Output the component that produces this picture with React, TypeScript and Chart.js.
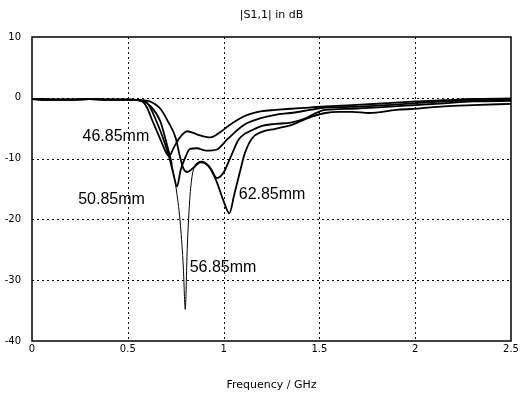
import React, { useEffect, useRef } from "react";
import { Chart, registerables } from "chart.js";
Chart.register(...registerables);

const titleText = "|S1,1| in dB";
const xTitleText = "Frequency / GHz";
const xTickValues = [0, 0.5, 1, 1.5, 2, 2.5];
const yTickValues = [10, 0, -10, -20, -30, -40];

const freqA = [0, 0.1, 0.2, 0.3, 0.4, 0.5, 0.55, 0.58, 0.6, 0.63, 0.66, 0.68, 0.7, 0.715, 0.74, 0.77, 0.81, 0.86, 0.93, 0.98, 1.03, 1.11, 1.2, 1.27, 1.35, 1.45, 1.53, 1.67, 1.85, 2.0, 2.15, 2.3, 2.5];
const s11A = [-0.2, -0.3, -0.3, -0.2, -0.3, -0.3, -0.4, -0.7, -1.6, -3.9, -6.1, -7.6, -9.0, -9.6, -8.2, -6.6, -5.5, -6.0, -6.5, -5.7, -4.5, -3.0, -2.2, -2.0, -1.8, -1.6, -1.4, -1.2, -0.9, -0.6, -0.4, -0.2, -0.1];

const freqB = [0, 0.1, 0.2, 0.3, 0.4, 0.5, 0.56, 0.6, 0.65, 0.69, 0.72, 0.74, 0.757, 0.775, 0.8, 0.825, 0.86, 0.91, 0.965, 1.02, 1.11, 1.2, 1.27, 1.35, 1.45, 1.53, 1.67, 1.85, 2.0, 2.15, 2.3, 2.5];
const s11B = [-0.2, -0.3, -0.3, -0.2, -0.3, -0.3, -0.4, -0.8, -3.9, -7.2, -10.2, -12.8, -14.6, -12.0, -9.8, -8.4, -8.3, -8.7, -8.5, -6.8, -4.4, -3.3, -2.8, -2.5, -2.0, -1.6, -1.5, -1.2, -0.9, -0.6, -0.4, -0.3];

const freqC = [0, 0.1, 0.2, 0.3, 0.4, 0.5, 0.57, 0.62, 0.67, 0.7, 0.73, 0.755, 0.775, 0.79, 0.8, 0.81, 0.825, 0.85, 0.89, 0.93, 0.965, 1.0, 1.04, 1.08, 1.15, 1.2, 1.27, 1.35, 1.41, 1.53, 1.67, 1.85, 2.0, 2.15, 2.3, 2.5];
const s11C = [-0.2, -0.3, -0.3, -0.2, -0.3, -0.3, -0.5, -1.4, -3.9, -7.2, -11.0, -15.5, -21, -28, -34.8, -25, -16, -11.2, -10.5, -11.5, -13.2, -12.3, -9.5, -6.8, -5.3, -4.6, -4.3, -4.1, -3.6, -2.0, -1.8, -1.5, -1.2, -0.9, -0.6, -0.5];

const freqD = [0, 0.1, 0.2, 0.3, 0.4, 0.5, 0.58, 0.615, 0.67, 0.71, 0.75, 0.77, 0.79, 0.81, 0.84, 0.88, 0.92, 0.96, 1.0, 1.03, 1.055, 1.085, 1.11, 1.15, 1.2, 1.27, 1.36, 1.46, 1.53, 1.6, 1.67, 1.76, 1.9, 2.0, 2.15, 2.3, 2.5];
const s11D = [-0.2, -0.3, -0.3, -0.2, -0.3, -0.3, -0.4, -0.6, -1.8, -3.9, -6.6, -9.4, -11.6, -12.2, -11.6, -10.6, -11.2, -13.5, -17.0, -19.0, -16, -12.2, -9.2, -6.6, -5.6, -5.1, -4.4, -3.1, -2.5, -2.3, -2.3, -2.5, -2.0, -1.8, -1.4, -1.2, -1.0];

const curveNames = ["46.85mm", "50.85mm", "56.85mm", "62.85mm"];
const labelFreq = [0.438, 0.415, 0.997, 1.253];
const labelDb = [-6.3, -16.7, -28.0, -16.0];

function pts(xs: number[], ys: number[]) {
  return xs.map((x, i) => ({ x, y: ys[i] }));
}

export default function App() {
  const ref = useRef<HTMLCanvasElement | null>(null);
  useEffect(() => {
    document.body.style.margin = "0";
    const canvas = ref.current;
    if (!canvas) return;

    const decor = {
      id: "decor",
      beforeDraw(chart: any) {
        const ctx = chart.ctx;
        ctx.save();
        ctx.fillStyle = "#fff";
        ctx.fillRect(0, 0, chart.width, chart.height);
        ctx.restore();
      },
      beforeDatasetsDraw(chart: any) {
        const ctx = chart.ctx;
        const { left, right, top, bottom } = chart.chartArea;
        const xs = chart.scales.x;
        const ys = chart.scales.y;
        ctx.save();
        ctx.strokeStyle = "#000";
        ctx.lineWidth = 1;
        ctx.setLineDash([2, 3]);
        xTickValues.slice(1, -1).forEach((v) => {
          const px = Math.round(xs.getPixelForValue(v)) + 0.5;
          ctx.beginPath();
          ctx.moveTo(px, top);
          ctx.lineTo(px, bottom);
          ctx.stroke();
        });
        yTickValues.slice(1, -1).forEach((v) => {
          const py = Math.round(ys.getPixelForValue(v)) + 0.5;
          ctx.beginPath();
          ctx.moveTo(left, py);
          ctx.lineTo(right, py);
          ctx.stroke();
        });
        ctx.restore();
      },
      afterDraw(chart: any) {
        const ctx = chart.ctx;
        const { left, right, top, bottom } = chart.chartArea;
        const xs = chart.scales.x;
        const ys = chart.scales.y;
        ctx.save();
        ctx.strokeStyle = "#000";
        ctx.lineWidth = 1.5;
        ctx.setLineDash([]);
        ctx.strokeRect(left, top, right - left, bottom - top);
        ctx.fillStyle = "#000";
        ctx.textAlign = "center";
        ctx.textBaseline = "middle";
        ctx.font = "11px 'DejaVu Sans'";
        const cx = (left + right) / 2;
        ctx.fillText(titleText, cx, 15);
        ctx.fillText(xTitleText, cx, 385);
        ctx.font = "16px 'Liberation Sans'";
        curveNames.forEach((n, i) => {
          ctx.fillText(n, xs.getPixelForValue(labelFreq[i]), ys.getPixelForValue(labelDb[i]));
        });
        ctx.restore();
      },
    };

    const common = {
      borderColor: "#000",
      borderWidth: 1.8,
      pointRadius: 0,
      fill: false,
      cubicInterpolationMode: "monotone" as const,
    };

    const chart = new Chart(canvas, {
      type: "line",
      data: {
        datasets: [
          { ...common, label: curveNames[0], data: pts(freqA, s11A) },
          { ...common, label: curveNames[1], data: pts(freqB, s11B) },
          {
            ...common,
            label: curveNames[2],
            data: pts(freqC, s11C),
            segment: {
              borderWidth: (c: any) => (c.p0.parsed.y < -15 || c.p1.parsed.y < -15 ? 1 : 1.8),
            },
          },
          { ...common, label: curveNames[3], data: pts(freqD, s11D) },
        ],
      },
      options: {
        animation: false,
        responsive: false,
        layout: { padding: { top: 37, right: 19, left: 0, bottom: 0 } },
        plugins: { legend: { display: false }, tooltip: { enabled: false }, title: { display: false } },
        scales: {
          x: {
            type: "linear",
            min: 0,
            max: 2.5,
            afterFit: (s: any) => {
              s.height = 55;
            },
            afterBuildTicks: (s: any) => {
              s.ticks = xTickValues.map((v) => ({ value: v }));
            },
            ticks: {
              color: "#000",
              font: { family: "'DejaVu Sans'", size: 10 },
              padding: 2,
              maxRotation: 0,
              callback: (v: any) => String(v),
            },
            grid: { display: false, drawTicks: false },
            border: { display: false },
          },
          y: {
            type: "linear",
            min: -40,
            max: 10,
            afterFit: (s: any) => {
              s.width = 32;
            },
            afterBuildTicks: (s: any) => {
              s.ticks = yTickValues.map((v) => ({ value: v }));
            },
            ticks: {
              color: "#000",
              font: { family: "'DejaVu Sans'", size: 10 },
              padding: 11,
              callback: (v: any) => String(v),
            },
            grid: { display: false, drawTicks: false },
            border: { display: false },
          },
        },
      },
      plugins: [decor],
    });
    return () => chart.destroy();
  }, []);
  return <canvas ref={ref} width={530} height={396} style={{ display: "block" }} />;
}
